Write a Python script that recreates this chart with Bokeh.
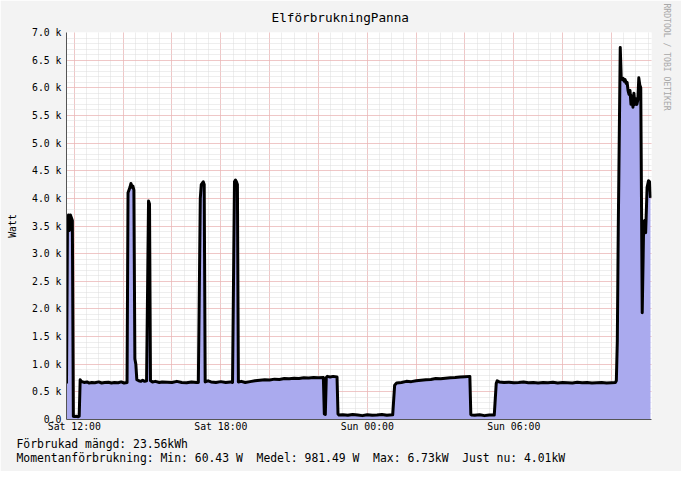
from bokeh.plotting import figure
from bokeh.models import FixedTicker, Range1d, ColumnDataSource, Title
from bokeh.embed import file_html
from bokeh.resources import INLINE

# ---- data (hours since Sat 00:00, power in W) ----
hours = [
    11.68, 11.72, 11.76, 11.80, 11.84, 11.88, 11.92, 11.96, 12.00, 12.08, 12.16, 12.20,
    12.24, 12.28, 12.40, 12.52, 12.60, 12.72, 12.84, 13.00, 13.12, 13.24, 13.40, 13.52,
    13.64, 13.80, 13.92, 14.04, 14.16, 14.20, 14.24, 14.28, 14.32, 14.36, 14.40, 14.44,
    14.48, 14.52, 14.56, 14.64, 14.72, 14.80, 14.88, 14.96, 15.04, 15.08, 15.12, 15.20,
    15.32, 15.48, 15.60, 15.80, 16.00, 16.20, 16.40, 16.60, 16.80, 17.00, 17.08, 17.16,
    17.20, 17.28, 17.32, 17.36, 17.48, 17.60, 17.80, 18.00, 18.20, 18.40, 18.48, 18.56,
    18.60, 18.64, 18.68, 18.72, 18.84, 19.00, 19.20, 19.40, 19.60, 19.80, 20.00, 20.20,
    20.40, 20.60, 20.80, 21.00, 21.20, 21.40, 21.60, 21.80, 22.00, 22.20, 22.24, 22.28,
    22.32, 22.36, 22.48, 22.60, 22.76, 22.80, 22.84, 23.00, 23.20, 23.40, 23.60, 23.80,
    24.00, 24.20, 24.40, 24.60, 24.80, 25.04, 25.12, 25.20, 25.40, 25.60, 25.80, 26.00,
    26.20, 26.40, 26.60, 26.80, 27.00, 27.20, 27.40, 27.60, 27.80, 28.00, 28.20, 28.24,
    28.28, 28.40, 28.60, 28.80, 29.00, 29.20, 29.28, 29.32, 29.40, 29.60, 29.80, 30.00,
    30.20, 30.40, 30.60, 30.80, 31.00, 31.20, 31.40, 31.60, 31.80, 32.00, 32.20, 32.40,
    32.60, 32.80, 33.00, 33.20, 33.40, 33.60, 33.80, 34.00, 34.16, 34.20, 34.24, 34.28,
    34.36, 34.40, 34.44, 34.48, 34.52, 34.56, 34.60, 34.64, 34.68, 34.72, 34.76, 34.80,
    34.84, 34.88, 34.92, 34.96, 35.00, 35.04, 35.08, 35.12, 35.16, 35.20, 35.26, 35.32,
    35.36, 35.40, 35.46, 35.52, 35.56, 35.60,
]
watts = [
    650, 3600, 3700, 3420, 3700, 3650, 3600, 60, 55, 60, 50, 60,
    720, 690, 670, 680, 660, 670, 665, 680, 660, 670, 675, 660,
    670, 665, 680, 660, 670, 4100, 4150, 4200, 4270, 4200, 4220, 4150,
    1100, 1000, 720, 700, 690, 710, 690, 700, 3950, 3900, 700, 680,
    690, 670, 680, 675, 670, 690, 670, 665, 680, 670, 670, 4000,
    4250, 4300, 4250, 680, 700, 680, 670, 685, 670, 680, 670, 4300,
    4330, 4300, 4250, 680, 690, 670, 685, 700, 710, 720, 715, 730,
    725, 740, 735, 745, 740, 755, 750, 760, 755, 760, 100, 90,
    760, 780, 770, 780, 770, 100, 80, 85, 75, 90, 80, 70,
    85, 75, 80, 90, 75, 85, 620, 660, 670, 690, 685, 700,
    710, 720, 725, 740, 735, 745, 755, 760, 770, 775, 780, 90,
    80, 75, 85, 70, 80, 80, 650, 700, 680, 670, 675, 665,
    670, 680, 665, 670, 660, 670, 665, 675, 660, 670, 665, 660,
    675, 665, 670, 660, 665, 670, 660, 665, 670, 700, 1420, 3500,
    6730, 6180, 6150, 6170, 6120, 6150, 6080, 6100, 5950, 5880, 5950, 5700,
    5850, 5650, 5900, 5700, 5800, 5700, 5780, 6180, 6050, 6000, 1930, 3550,
    3600, 3380, 4200, 4320, 4300, 4010,
]

x_major_hours = [12, 14, 16, 18, 20, 22, 24, 26, 28, 30, 32, 34]
x_minor_hours = [h / 2 for h in range(24, 72)]
x_tick_labels = {12: "Sat 12:00", 18: "Sat 18:00", 24: "Sun 00:00", 30: "Sun 06:00"}
y_major_values = [0, 500, 1000, 1500, 2000, 2500, 3000, 3500, 4000, 4500, 5000, 5500, 6000, 6500, 7000]
y_minor_values = list(range(0, 7001, 100))
y_tick_labels = ["0.0", "0.5 k", "1.0 k", "1.5 k", "2.0 k", "2.5 k", "3.0 k", "3.5 k",
                 "4.0 k", "4.5 k", "5.0 k", "5.5 k", "6.0 k", "6.5 k", "7.0 k"]

title_text = "ElförbrukningPanna"
y_label = "Watt"
NB = "\u00a0"
legend_line1 = "Förbrukad mängd: 23.56kWh"
legend_line2 = ("Momentanförbrukning: Min: 60.43 W" + NB + " Medel: 981.49 W" + NB +
                " Max: 6.73kW" + NB + " Just nu: 4.01kW")
watermark = "RRDTOOL / TOBI OETIKER"

MONO = "DejaVu Sans Mono"

p = figure(width=681, height=471, output_backend="svg", toolbar_location=None,
           x_range=Range1d(11.68, 35.64), y_range=Range1d(0, 7000),
           min_border_left=66, min_border_right=30, min_border_top=32, min_border_bottom=52)
p.background_fill_color = "#ffffff"
p.border_fill_color = "#f3f3f3"
p.outline_line_color = None

src = ColumnDataSource(dict(x=hours, y=watts))
p.varea(x="x", y1=0, y2="y", source=src, fill_color="#aaaaee")
p.line(x="x", y="y", source=src, line_color="black", line_width=3, line_join="round")

# axes
xa = p.xaxis[0]
xa.ticker = FixedTicker(ticks=x_major_hours, minor_ticks=x_minor_hours)
xa.major_label_overrides = {h: x_tick_labels.get(h, "") for h in x_major_hours}
ya = p.yaxis[0]
ya.ticker = FixedTicker(ticks=y_major_values, minor_ticks=y_minor_values)
ya.major_label_overrides = {v: lab for v, lab in zip(y_major_values, y_tick_labels)}
ya.axis_label = y_label
ya.axis_label_standoff = 11
ya.axis_label_text_font = MONO
ya.axis_label_text_font_size = "9.8px"
ya.axis_label_text_font_style = "normal"
ya.axis_label_text_color = "#000000"
ya.major_label_standoff = 5
xa.major_label_standoff = 1
for ax in (xa, ya):
    ax.axis_line_color = "#555555"
    ax.major_tick_in = 0
    ax.major_tick_out = 0
    ax.minor_tick_in = 0
    ax.minor_tick_out = 0
    ax.major_label_text_font = MONO
    ax.major_label_text_font_size = "9.8px"
    ax.major_label_text_color = "#000000"

for g in (p.xgrid[0], p.ygrid[0]):
    g.grid_line_color = "#f0a0a0"
    g.grid_line_dash = "1 1"
    g.minor_grid_line_color = "#dcdcdc"
    g.minor_grid_line_dash = "1 1"

# title
p.title.text = title_text
p.title.align = "left"
p.title.offset = 205
p.title.standoff = 14
p.title.vertical_align = "middle"
p.title.text_font = MONO
p.title.text_font_size = "12.7px"
p.title.text_font_style = "normal"
p.title.text_color = "#000000"

# legend lines below
for txt, so in [(legend_line1, 0), (legend_line2, -3)]:
    t = Title(text=txt, align="left", offset=-50, standoff=so, text_font=MONO,
              text_font_size="11.4px", text_font_style="normal", text_color="#000000")
    p.add_layout(t, "below")

# watermark on the right
wm = Title(text=watermark, align="left", offset=-29, standoff=16, vertical_align="top",
           text_font=MONO, text_font_size="8.1px", text_font_style="normal", text_color="#a8a8a8")
p.add_layout(wm, "right")

open("out.html", "w").write(file_html(p, INLINE))
